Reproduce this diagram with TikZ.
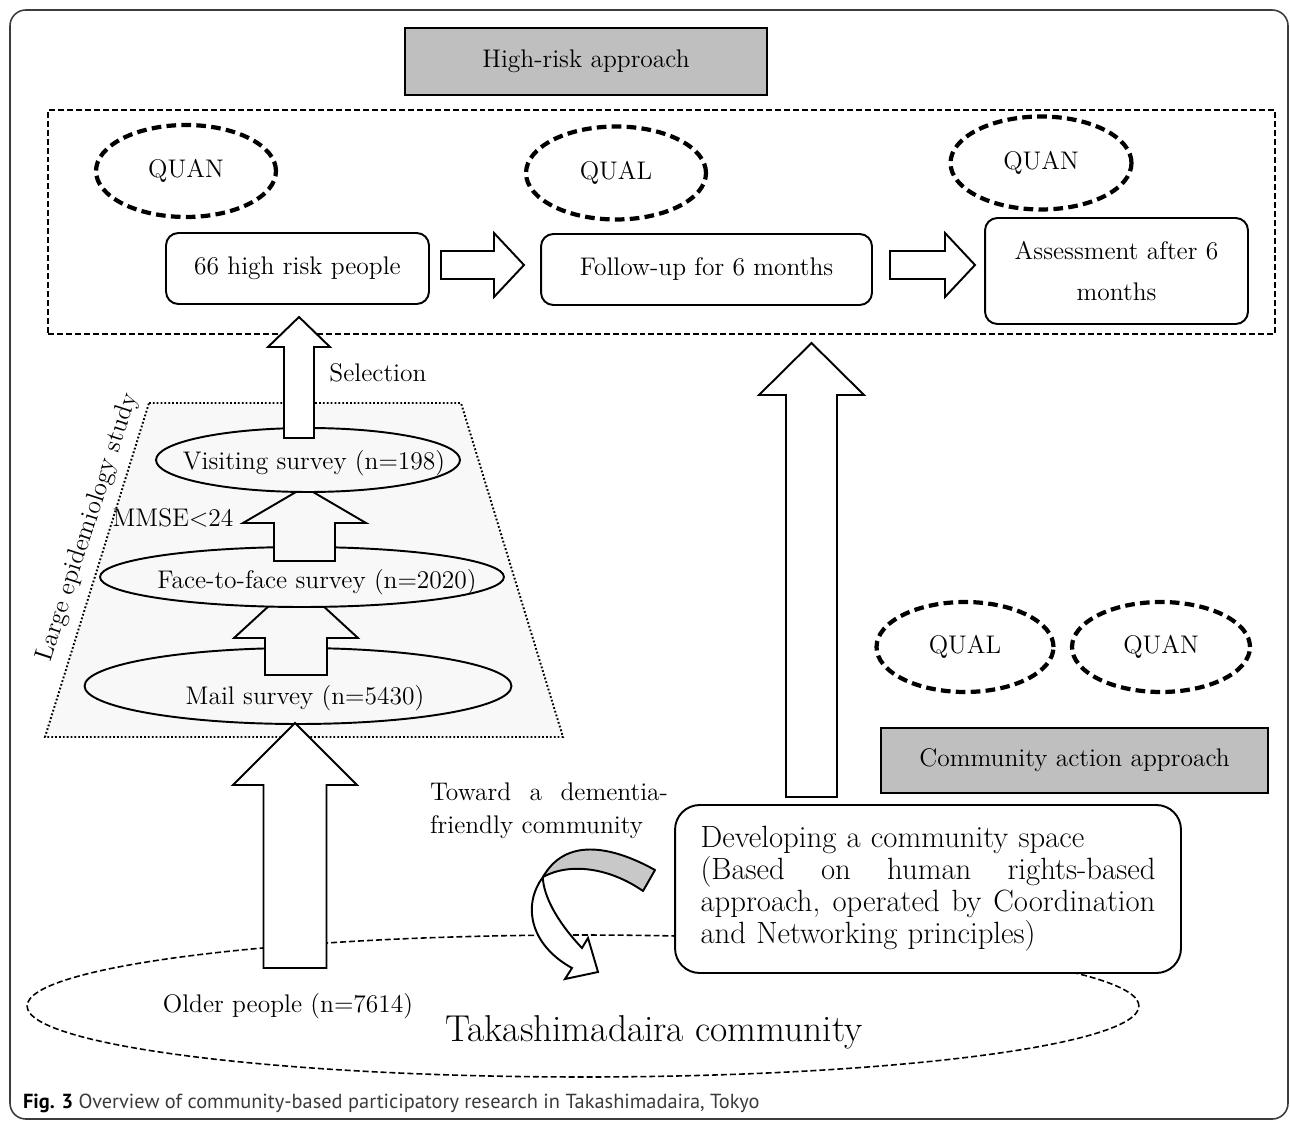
\documentclass[tikz,border=0pt]{standalone}
\usepackage{fontspec}
\newfontfamily\capfont{PT Sans}
\usetikzlibrary{shapes.geometric}
\definecolor{boxgray}{HTML}{BFBFBF}
\definecolor{trapfill}{HTML}{F8F8F8}
\definecolor{bendgray}{HTML}{C8C8C8}
\definecolor{framegray}{HTML}{3C3C3C}
\definecolor{captext}{HTML}{3A3A3A}

% hollow block arrows (grid numbers): [fill] x, tip, head base, tail, half shaft, half head
\newcommand{\fatup}[7][white]{%
  \draw[fatarrow,fill=#1] (#2,#3) -- (#2+#7,#4) -- (#2+#6,#4) -- (#2+#6,#5) -- (#2-#6,#5) -- (#2-#6,#4) -- (#2-#7,#4) -- cycle;}
\newcommand{\fatright}[6]{%
  \draw[fatarrow,fill=white] (#2,#1) -- (#3,#1-#6) -- (#3,#1-#5) -- (#4,#1-#5) -- (#4,#1+#5) -- (#3,#1+#5) -- (#3,#1+#6) -- cycle;}
% one justified line of a given width
\newcommand{\spreadline}[2]{\leavevmode\hbox to #1{\spaceskip=0.3333em plus 1fil\relax #2}}

\begin{document}
\begin{tikzpicture}[x=0.02cm,y=-0.02cm,inner sep=0pt,outer sep=0pt,
  font=\fontsize{14.5}{17}\selectfont,
  approach/.style={draw,fill=boxgray,line width=1.4pt,rectangle},
  stagebox/.style={draw,rectangle,rounded corners=7pt,line width=1.1pt,align=center},
  method/.style={draw,ellipse,line width=2.4pt,dash pattern=on 5.5pt off 3pt,minimum width=3.6cm,minimum height=1.84cm},
  survey/.style={draw,ellipse,fill=trapfill,line width=1.1pt},
  fatarrow/.style={draw,line width=1.1pt,line join=miter},
  thindash/.style={line width=0.9pt,dash pattern=on 3.4pt off 1.7pt}]
\useasboundingbox (0,0) rectangle (1290,1121);
\draw[framegray,line width=0.9pt,rounded corners=9pt] (10,10) rectangle (1288,1119);

% high-risk approach
\draw (586,61.5) node[approach,minimum width=7.24cm,minimum height=1.34cm] (hrtitle) {High-risk approach};
\draw (661.5,222) node[draw,thindash,minimum width=24.54cm,minimum height=4.48cm] (hrframe) {};
\draw (186,171) node[method] (quan1) {QUAN};
\draw (616,173) node[method,minimum height=1.86cm] (qual1) {QUAL};
\draw (1041,163) node[method,minimum width=3.62cm,minimum height=1.86cm] (quan2) {QUAN};
\draw (297.5,268.5) node[stagebox,minimum width=5.26cm,minimum height=1.42cm] (risk) {66 high risk people};
\draw (706.5,269.5) node[stagebox,minimum width=6.62cm,minimum height=1.42cm] (follow) {Follow-up for 6 months};
\draw (1116.5,271) node[stagebox,minimum width=5.26cm,minimum height=2.12cm,font=\fontsize{14.5}{23.3}\selectfont] (assess) {Assessment after 6\\months};
\fatright{265}{524}{494}{441}{14}{32}
\fatright{265}{975}{945}{890}{14}{32}

% community
\draw (583,1006) node[draw,ellipse,thindash,minimum width=22.24cm,minimum height=2.84cm] (commun) {};

% large epidemiology study
\draw[fill=trapfill,line width=1.1pt,dash pattern=on 1pt off 1.2pt] (149,403) -- (461,403) -- (563,737) -- (45,737) -- cycle;
\draw (88,527) node[rotate=72] (epilabel) {Large epidemiology study};
\draw (298,686) node[survey,minimum width=8.54cm,minimum height=1.52cm] (mail) {};
\fatup[trapfill]{296}{581}{638}{675}{31}{62}
\draw (302,577) node[survey,minimum width=8.08cm,minimum height=1.2cm] (face) {};
\fatup[trapfill]{304.5}{487}{523}{561}{30.5}{61.5}
\draw (308,460) node[survey,minimum width=6.08cm,minimum height=1.28cm] (visit) {};
\fatup{299}{317}{347}{438}{15}{31}
\draw (305,698) node (mailtext) {Mail survey (n=5430)};
\draw (317,582) node (facetext) {Face-to-face survey (n=2020)};
\draw (314,463) node (visittext) {Visiting survey (n=198)};
\draw (173,518) node (mmse) {MMSE<24};
\draw (378,373) node (selection) {Selection};

% upward arrows
\fatup{295}{723}{785}{968}{31.5}{62}
\fatup{811.5}{343}{395}{797}{25.5}{52.5}

% community action approach
\draw (965,647) node[method,minimum width=3.54cm,minimum height=1.8cm] (qual2) {QUAL};
\draw (1161,647) node[method,minimum width=3.56cm,minimum height=1.8cm] (quan3) {QUAN};
\draw (1074.5,760.5) node[approach,minimum width=7.74cm,minimum height=1.3cm] (catitle) {Community action approach};
\draw (928,889) node[stagebox,fill=white,rounded corners=14pt,minimum width=10.12cm,minimum height=3.36cm,text width=9.1cm,align=left,font=\fontsize{17.5}{18.2}\selectfont] (space) {Developing a community space\\\spreadline{9.1cm}{(Based on human rights-based}\\\spreadline{9.1cm}{approach, operated by Coordination}\\and Networking principles)};
\draw (549,811) node[text width=4.76cm,align=left,font=\fontsize{14.5}{18.8}\selectfont] (toward) {\spreadline{4.76cm}{Toward a dementia-}\\friendly community};

% curved arrow
\draw[fill=bendgray,line width=1.1pt,line join=round] (655,870) .. controls (610,845) and (565,838) .. (543,877) .. controls (570,862) and (610,868) .. (643,891) -- cycle;
\draw[fill=white,line width=1.1pt,line join=miter] (543,877) .. controls (522,905) and (530,945) .. (572,968) -- (565,979) -- (598,972) -- (588,938) -- (582,948) .. controls (560,925) and (545,900) .. (543,880) -- cycle;

\draw (288,1006) node (older) {Older people (n=7614)};
\draw (654,1032) node[font=\fontsize{21.3}{24}\selectfont] (takashima) {Takashimadaira community};
\draw (23,1108) node[anchor=base west,text=captext,font=\capfont\fontsize{11.6}{13}\selectfont] (caption) {\textcolor{black}{\textbf{Fig. 3}} Overview of community-based participatory research in Takashimadaira, Tokyo};
\end{tikzpicture}
\end{document}
